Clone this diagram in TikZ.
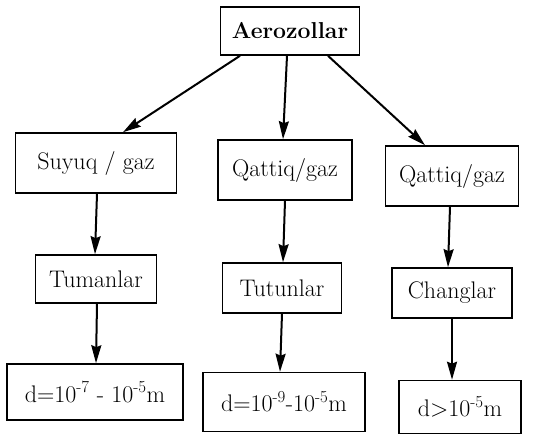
\documentclass[tikz,border=0pt]{standalone}
\usetikzlibrary{arrows.meta}
\tikzset{
  box/.style={draw, line width=1.6pt, font=\fontsize{24}{29}\selectfont, inner sep=0pt},
  arr/.style={line width=2pt, -{Stealth[length=18pt,width=10pt,inset=2pt]}}
}
\begin{document}
\begin{tikzpicture}[x=1pt, y=-1pt]
    \useasboundingbox (0,0) rectangle (556,434);

    % Top
    \node[box, font=\bfseries\fontsize{23}{28}\selectfont, minimum width=139pt, minimum height=48pt] (aero) at (290,31) {Aerozollar};

    % Phase row
    \node[box, minimum width=161pt, minimum height=60pt] (suyuq) at (96,163) {Suyuq / gaz};
    \node[box, minimum width=134pt, minimum height=60pt] (qattiqA) at (285,170) {Qattiq/gaz};
    \node[box, minimum width=133pt, minimum height=60pt] (qattiqB) at (452,176) {Qattiq/gaz};

    % Kind row
    \node[box, minimum width=121pt, minimum height=48pt] (tuman) at (96,279) {Tumanlar};
    \node[box, minimum width=119pt, minimum height=50pt] (tutun) at (282,288) {Tutunlar};
    \node[box, minimum width=120pt, minimum height=50pt] (chang) at (452,293) {Changlar};

    % Size row
    \node[box, minimum width=176pt, minimum height=56pt] (dtuman) at (95,392) {d=10\textsuperscript{-7} - 10\textsuperscript{-5}m};
    \node[box, minimum width=162pt, minimum height=59pt] (dtutun) at (284,402) {d=10\textsuperscript{-9}-10\textsuperscript{-5}m};
    \node[box, minimum width=122pt, minimum height=53pt] (dchang) at (460,407) {d>10\textsuperscript{-5}m};

    % Arrows from top
    \draw[arr] ([xshift=-50pt]aero.south) -- ([xshift=27pt]suyuq.north);
    \draw[arr] ([xshift=-3pt]aero.south) -- ([xshift=-2pt]qattiqA.north);
    \draw[arr] ([xshift=38pt]aero.south) -- ([xshift=-27pt]qattiqB.north);

    % Vertical arrows
    \draw[arr] ([xshift=1pt]suyuq.south) -- ([xshift=-1pt]tuman.north);
    \draw[arr] ([xshift=1pt]tuman.south) -- ([xshift=1pt]dtuman.north);
    \draw[arr] (qattiqA.south) -- ([xshift=1pt]tutun.north);
    \draw[arr] (tutun.south) -- ([xshift=-4pt]dtutun.north);
    \draw[arr] ([xshift=-2pt]qattiqB.south) -- ([xshift=-4pt]chang.north);
    \draw[arr] (chang.south) -- ([xshift=-8pt]dchang.north);
\end{tikzpicture}
\end{document}
